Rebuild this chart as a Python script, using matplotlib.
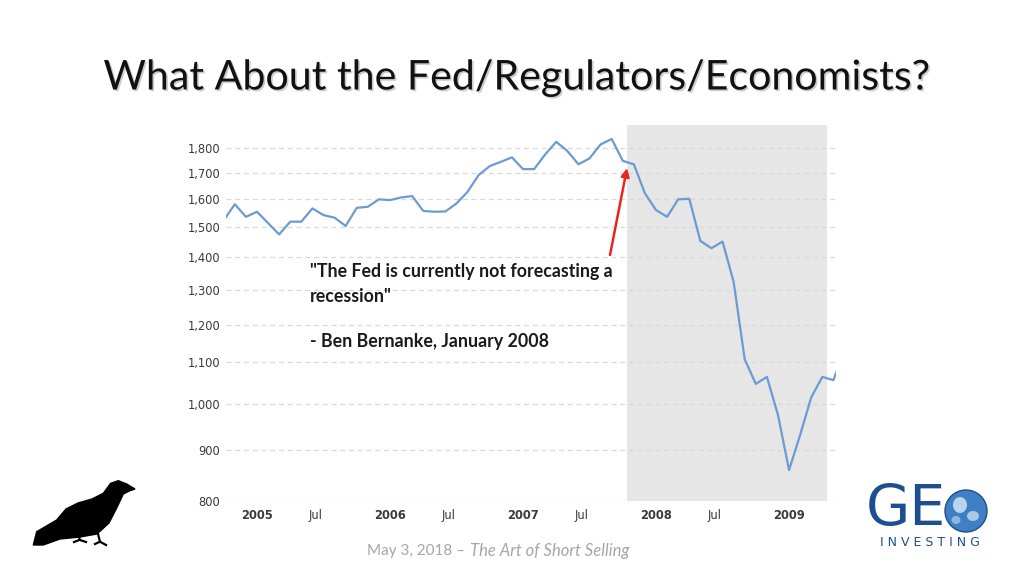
"""Slide: 'What About the Fed/Regulators/Economists?' - monthly index 2004-2009, log scale."""
import matplotlib
matplotlib.use("Agg")
import matplotlib.pyplot as plt
import matplotlib.patheffects as pe
from matplotlib.patches import Polygon, Ellipse
import numpy as np

# month-end readings, Sep 2004 .. May 2009
start_year, start_month = 2004, 9
values = [
    1525, 1582, 1537, 1555,                                                  # 2004 Sep-Dec
    1515, 1476, 1520, 1520, 1567, 1543, 1534, 1505, 1569, 1573, 1600, 1597,  # 2005
    1607, 1612, 1558, 1555, 1556, 1585, 1628, 1692, 1727, 1744, 1762, 1715,  # 2006
    1715, 1774, 1826, 1788, 1734, 1758, 1815, 1838, 1748, 1734, 1622, 1561,  # 2007
    1537, 1600, 1602, 1454, 1430, 1452, 1324, 1108, 1047, 1064, 975, 859,    # 2008
    931, 1015, 1064, 1056, 1130,                                             # 2009 Jan-May
]
y_ticks = [800, 900, 1000, 1100, 1200, 1300, 1400, 1500, 1600, 1700, 1800]
x_tick_pos = [2005, 2005.44, 2006, 2006.44, 2007, 2007.44, 2008, 2008.44, 2009]
x_tick_lab = ["2005", "Jul", "2006", "Jul", "2007", "Jul", "2008", "Jul", "2009"]
recession = (2007.78, 2009.285)

# x as decimal year at month end
x = np.array([start_year + (start_month + i) / 12 for i in range(len(values))])
y = np.array(values)

W, H = 1024, 576
fig = plt.figure(figsize=(W / 100, H / 100), dpi=100)
fig.patch.set_facecolor("white")

def px(xp, yp):
    """reference pixel (top-left origin) -> figure fraction"""
    return xp / W, 1 - yp / H

ax = fig.add_axes([226 / W, 75 / H, 610 / W, 376 / H])
ax.set_yscale("log")
ax.set_xlim(2004.767, 2009.353)
ax.set_ylim(800, 1898)
ax.axvspan(*recession, color="#e6e6e6", zorder=0, lw=0)
ax.plot(x, y, color="#6b9bd0", lw=1.6, zorder=3)

ax.set_yticks(y_ticks)
ax.set_yticklabels([f"{v:,}" for v in y_ticks])
ax.yaxis.set_minor_locator(matplotlib.ticker.NullLocator())
ax.set_xticks(x_tick_pos)
ax.set_xticklabels(x_tick_lab)
for lab in ax.get_xticklabels():
    if lab.get_text() != "Jul":
        lab.set_fontweight("bold")
ax.tick_params(axis="both", length=0, labelsize=8.3, colors="#3a3a3a")
ax.tick_params(axis="y", pad=4)
ax.tick_params(axis="x", pad=6)
ax.grid(axis="y", color="#d9d9d9", ls=(0, (4, 3)), lw=0.9)
ax.set_axisbelow(True)
for s in ax.spines.values():
    s.set_visible(False)
ax.set_facecolor("none")

# quote and arrow
ax.annotate("", xy=(2007.782, 1719), xytext=(2007.654, 1408),
            arrowprops=dict(arrowstyle="-|>", color="#e8261e", lw=1.8,
                            mutation_scale=12, shrinkA=0, shrinkB=0), zorder=5)
qfont = dict(family="Lato", fontweight="bold", fontsize=12.8, color="#1a1a1a")
fig.text(*px(310, 272), '"The Fed is currently not forecasting a', va="center", ha="left", **qfont)
fig.text(*px(310, 296), 'recession"', va="center", ha="left", **qfont)
fig.text(*px(310, 341), "- Ben Bernanke, January 2008", va="center", ha="left", **qfont)

# title
fig.text(*px(517, 78), "What About the Fed/Regulators/Economists?", ha="center", va="center",
         family="Lato", fontsize=29.6, color="#111111",
         path_effects=[pe.withSimplePatchShadow(offset=(1.2, -1.2), shadow_rgbFace="#9a9a9a", alpha=0.5)])

# footer
fig.text(*px(469, 551), "May 3, 2018 \u2013 ", ha="right", va="center",
         family="Lato", fontsize=11, color="#a6a6a6")
fig.text(*px(470, 551), "The Art of Short Selling", ha="left", va="center",
         family="Lato", fontsize=12, color="#a6a6a6", style="italic")

# crow silhouette (bottom left)
crow = [(135, 489), (126.7, 484), (118.3, 480.7), (110.7, 483.3), (103.3, 493.3),
        (92, 499), (78, 503), (66, 509), (56.7, 520), (36.7, 531.7), (33.3, 545),
        (43.3, 545), (60, 539), (80, 537), (97, 534), (109, 523),
        (116.7, 508), (123.3, 494), (130, 490.7)]
fig.patches.append(Polygon([px(a, b) for a, b in crow], closed=True, color="black",
                           transform=fig.transFigure, figure=fig))
for leg in ([(80, 532), (79.3, 540), (74, 542)], [(80, 540), (86, 542)],
            [(97, 530), (100, 541.7), (95, 544)], [(100, 541.7), (106, 545)]):
    fig.lines.append(plt.Line2D([px(a, b)[0] for a, b in leg], [px(a, b)[1] for a, b in leg],
                                color="black", lw=1.6, transform=fig.transFigure, figure=fig))

# GEO investing logo (bottom right)
navy = "#1d4f8f"
fig.text(*px(906, 511), "GE", ha="center", va="center", family="DejaVu Sans",
         fontsize=41, color=navy)
gx, gy = px(966, 511)
fig.patches.append(Ellipse((gx, gy), 42 / W, 42 / H, transform=fig.transFigure,
                           facecolor="#3f7fc4", edgecolor=navy, lw=1.0, figure=fig))
for cx, cy, w, h, c in [(960, 505, 14, 16, "#b9d4ee"), (973, 516, 12, 10, "#a9c8e8"),
                        (956, 520, 9, 8, "#8fb6df")]:
    fig.patches.append(Ellipse(px(cx, cy), w / W, h / H, transform=fig.transFigure,
                               facecolor=c, edgecolor="none", figure=fig))
fig.text(*px(930, 543), "I N V E S T I N G", ha="center", va="center", family="DejaVu Sans",
         fontsize=9, color=navy)

fig.savefig("out.png", dpi=100)
